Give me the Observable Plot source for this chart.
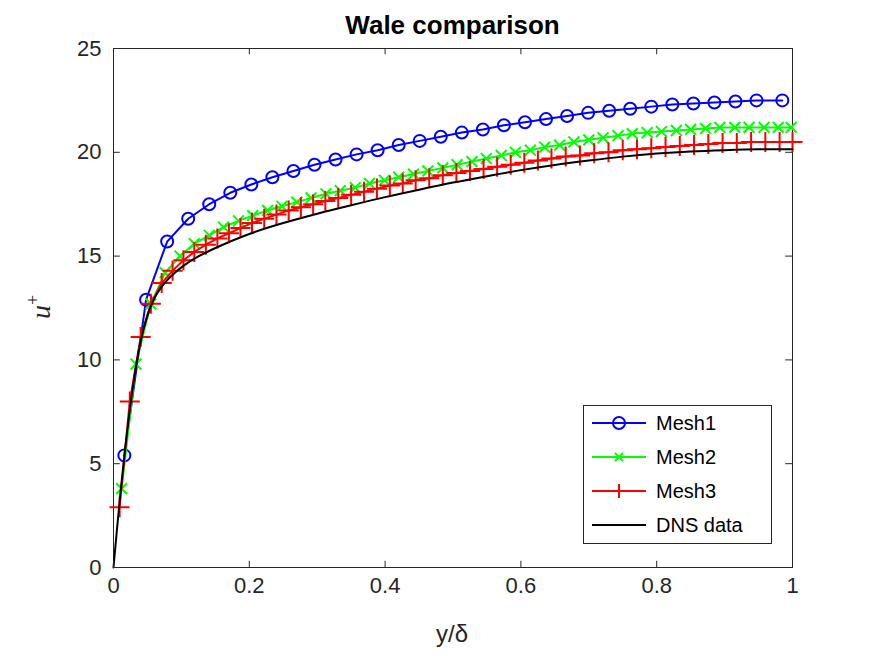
<!DOCTYPE html>
<html><head><meta charset="utf-8">
<script src="https://cdn.jsdelivr.net/npm/d3@7"></script>
<script src="https://cdn.jsdelivr.net/npm/@observablehq/plot@0.6"></script>
<style>
body{margin:0;background:#fff;font-family:"Liberation Sans",Arial,sans-serif}
#wrap{position:relative;width:875px;height:656px}
#title{position:absolute;left:113px;width:679px;top:10px;text-align:center;font-weight:bold;font-size:26px}
#legend{position:absolute;left:583px;top:405px;width:187px;height:137px;border:1px solid #262626;background:#fff;font-size:20px}
#legend div{height:34px;display:flex;align-items:center}
</style></head><body>
<div id="wrap"><div id="chart"></div><div id="title">Wale comparison</div><div id="legend"></div></div>
<script>
const mesh1X = [0.016,0.048,0.079,0.110,0.141,0.172,0.203,0.234,0.265,0.296,0.327,0.358,0.389,0.420,0.451,0.482,0.513,0.544,0.575,0.606,0.637,0.668,0.699,0.730,0.761,0.792,0.823,0.854,0.885,0.916,0.947,0.985]
const mesh1Y = [5.4,12.9,15.7,16.8,17.5,18.05,18.45,18.8,19.1,19.4,19.65,19.9,20.1,20.35,20.55,20.75,20.95,21.1,21.3,21.45,21.6,21.75,21.9,22.0,22.1,22.2,22.3,22.35,22.4,22.45,22.5,22.5]
const mesh2X = [0.012,0.033,0.055,0.076,0.098,0.119,0.141,0.162,0.184,0.205,0.227,0.248,0.270,0.291,0.313,0.334,0.356,0.377,0.399,0.420,0.442,0.463,0.485,0.506,0.528,0.549,0.571,0.592,0.614,0.635,0.657,0.678,0.700,0.721,0.743,0.764,0.786,0.807,0.829,0.850,0.872,0.893,0.915,0.936,0.958,0.979,0.998]
const mesh2Y = [3.8,9.8,12.7,14.2,15.0,15.6,16.0,16.4,16.7,16.95,17.2,17.4,17.6,17.8,18.0,18.15,18.3,18.5,18.65,18.8,18.95,19.1,19.25,19.4,19.55,19.7,19.85,20.0,20.1,20.25,20.35,20.5,20.6,20.7,20.8,20.9,20.95,21.0,21.05,21.1,21.15,21.2,21.2,21.2,21.2,21.2,21.2]
const mesh3X = [0.009,0.024,0.040,0.055,0.071,0.087,0.103,0.119,0.136,0.153,0.170,0.187,0.204,0.222,0.240,0.258,0.276,0.294,0.312,0.331,0.350,0.369,0.388,0.407,0.426,0.445,0.465,0.485,0.505,0.525,0.545,0.565,0.585,0.605,0.625,0.645,0.666,0.687,0.708,0.729,0.750,0.771,0.792,0.813,0.834,0.855,0.876,0.897,0.918,0.939,0.960,0.981,1.0]
const mesh3Y = [2.9,8.0,11.1,12.7,13.7,14.3,14.8,15.2,15.55,15.85,16.1,16.35,16.6,16.8,17.0,17.2,17.35,17.5,17.65,17.8,17.95,18.1,18.25,18.4,18.5,18.65,18.75,18.9,19.0,19.1,19.2,19.3,19.4,19.5,19.6,19.7,19.8,19.85,19.95,20.0,20.1,20.15,20.2,20.25,20.3,20.35,20.4,20.45,20.45,20.5,20.5,20.5,20.5]
const dnsX = [0,0.005,0.01,0.02,0.03,0.04,0.05,0.06,0.07,0.08,0.1,0.125,0.15,0.2,0.25,0.3,0.35,0.4,0.45,0.5,0.55,0.6,0.65,0.7,0.75,0.8,0.85,0.9,0.95,1]
const dnsY = [0,1.8,3.6,6.6,9.1,11.0,12.2,13.0,13.5,13.9,14.5,15.0,15.4,16.1,16.6,17.05,17.45,17.85,18.2,18.55,18.85,19.15,19.4,19.6,19.8,19.95,20.05,20.1,20.15,20.15]
const series = [
  {name:"Mesh1", x:mesh1X, y:mesh1Y, color:"#0000ff", symbol:"circle"},
  {name:"Mesh2", x:mesh2X, y:mesh2Y, color:"#00ff00", symbol:"times"},
  {name:"Mesh3", x:mesh3X, y:mesh3Y, color:"#ff0000", symbol:"plus"},
  {name:"DNS data", x:dnsX, y:dnsY, color:"#000000", symbol:null}
]
const rows = s => s.x.map((x, i) => ({x, y: s.y[i]}))
const xt = [0,0.2,0.4,0.6,0.8,1], yt = [0,5,10,15,20,25]

const marks = [Plot.frame({stroke:"#262626"})]
for (const s of series) {
  marks.push(Plot.line(rows(s), {x:"x", y:"y", stroke:s.color, strokeWidth:2, curve: s.symbol ? "linear" : "basis"}))
  if (s.symbol) marks.push(Plot.dot(rows(s), {x:"x", y:"y", stroke:s.color, symbol:s.symbol, r: s.symbol=="circle" ? 6 : (s.symbol=="plus" ? 6.5 : 5), strokeWidth:2}))
}
marks.push(
  Plot.ruleX(xt, {y1:0, y2:0.3, stroke:"#262626"}),
  Plot.ruleX(xt, {y1:24.7, y2:25, stroke:"#262626"}),
  Plot.ruleY(yt, {x1:0, x2:0.01, stroke:"#262626"}),
  Plot.ruleY(yt, {x1:0.99, x2:1, stroke:"#262626"})
)
const chart = Plot.plot({
  width:875, height:656, marginLeft:113, marginRight:83, marginTop:48, marginBottom:89,
  style:{fontSize:"22px", fontFamily:"Liberation Sans, Arial, sans-serif", color:"#262626"},
  x:{domain:[0,1], ticks:xt, tickSize:0, tickPadding:10, tickFormat:d=>String(d), label:null},
  y:{domain:[0,25], ticks:yt, tickSize:0, tickPadding:12, label:null},
  marks
})
d3.select("#chart").append(() => chart)
d3.select(chart).append("text").attr("x",452).attr("y",642).attr("text-anchor","middle")
  .attr("font-size",24).attr("fill","#262626").text("y/δ")
d3.select(chart).append("text").attr("transform","translate(50,307) rotate(-90)").attr("text-anchor","middle")
  .attr("font-family","Liberation Serif, serif").attr("font-style","italic").attr("font-size",28).attr("fill","#262626")
  .text("u").append("tspan").attr("dy",-11).attr("font-size",18).attr("font-style","normal").text("+")

const lg = d3.select("#legend")
for (const s of series) {
  const row = lg.append("div")
  const sv = row.append("svg").attr("width",70).attr("height",20)
  sv.append("line").attr("x1",8).attr("x2",62).attr("y1",10).attr("y2",10).attr("stroke",s.color).attr("stroke-width",2)
  if (s.symbol=="circle") sv.append("circle").attr("cx",35).attr("cy",10).attr("r",6).attr("fill","none").attr("stroke",s.color).attr("stroke-width",2)
  if (s.symbol=="times") sv.append("path").attr("d","M31,6L39,14M39,6L31,14").attr("stroke",s.color).attr("stroke-width",2)
  if (s.symbol=="plus") sv.append("path").attr("d","M35,3V17M28,10H42").attr("stroke",s.color).attr("stroke-width",2)
  row.append("span").text(s.name).style("margin-left","2px")
}
</script></body></html>
